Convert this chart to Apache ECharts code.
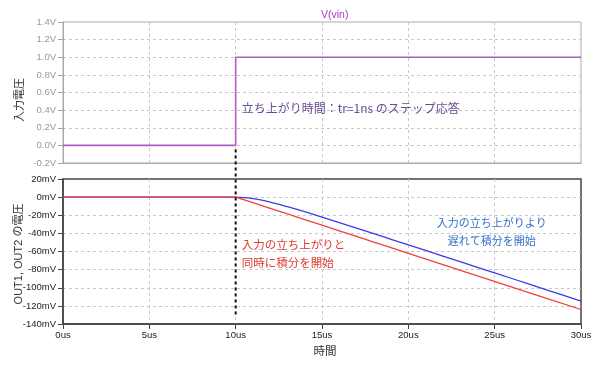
<!DOCTYPE html>
<html><head><meta charset="utf-8">
<script src="https://cdn.jsdelivr.net/npm/echarts@6/dist/echarts.min.js"></script>
<style>html,body{margin:0;padding:0;background:#fff}#c{width:600px;height:369px}</style>
</head><body><div id="c"></div>
<script>
// time axis (us)
const xTicks = [0, 5, 10, 15, 20, 25, 30];
// Input voltage V(vin) [time us, volts]
const vinTime = [0, 10, 10, 30];
const vinVolt = [0, 0, 1.0, 1.0];
// OUT1 (red) : starts integrating at the input edge [mV]
const outTime = [0, 10, 11, 12, 13, 14, 15, 16, 17, 18, 19, 20, 22, 24, 26, 28, 30];
const out1mV = [0, 0, -6.0, -12.3, -18.6, -24.8, -31.0, -37.2, -43.4, -49.6, -55.8, -62.0, -74.4, -86.8, -99.2, -111.6, -124.0];
// OUT2 (blue): starts integrating later
const out2mV = [0, 0, -1.7, -5.5, -10.6, -16.1, -22.0, -28.1, -34.2, -40.3, -46.5, -52.7, -65.0, -77.4, -89.8, -102.3, -114.7];
// labels
const topYTicks = [-0.2, 0, 0.2, 0.4, 0.6, 0.8, 1.0, 1.2, 1.4];
const botYTicks = [-140, -120, -100, -80, -60, -40, -20, 0, 20];
const txtTopY = '入力電圧';
const txtBotY = 'OUT1, OUT2 の電圧';
const txtX = '時間';
const txtVin = 'V(vin)';
const txtNote1 = '立ち上がり時間：tr=1ns のステップ応答';
const txtNoteRed = ['入力の立ち上がりと', '同時に積分を開始'];
const txtNoteBlue = ['入力の立ち上がりより', '遅れて積分を開始'];

const FONT = '"Liberation Sans", Arial, sans-serif';
const JFONT = '"Noto Sans CJK JP", sans-serif';
const MFONT = '"Liberation Sans", "Noto Sans CJK JP", sans-serif';
const pair = (xs, ys) => xs.map((x, i) => [x, ys[i]]);
const split = { show: true, showMinLine: false, showMaxLine: false, lineStyle: { color: '#c8c8c8', type: [3, 3] } };

const chart = echarts.init(document.getElementById('c'));
const xBase = (gi, showLabel) => ({
  type: 'value', gridIndex: gi, min: xTicks[0], max: xTicks[xTicks.length - 1], interval: 5,
  axisLine: { show: true, onZero: false, lineStyle: { color: gi === 0 ? '#aaaaaa' : '#444', width: gi === 0 ? 1 : 1.5 } },
  axisTick: { show: showLabel, length: 5, lineStyle: { color: '#444' } },
  axisLabel: { show: showLabel, formatter: v => v + 'us', color: '#222', fontFamily: FONT, fontSize: 9.5, margin: 6 },
  splitLine: split
});
chart.setOption({
  animation: false,
  grid: [
    { left: 63, right: 19, top: 22, height: 141, show: true, borderColor: '#aaaaaa', borderWidth: 1 },
    { left: 63, right: 19, top: 179, height: 145, show: true, borderColor: '#444', borderWidth: 1.5 }
  ],
  xAxis: [xBase(0, false), xBase(1, true)],
  yAxis: [
    { type: 'value', gridIndex: 0, min: topYTicks[0], max: topYTicks[topYTicks.length - 1], interval: 0.2,
      axisLine: { show: true, onZero: false, lineStyle: { color: '#aaaaaa' } },
      axisTick: { show: true, length: 5, lineStyle: { color: '#aaaaaa' } },
      axisLabel: { formatter: v => (Math.round(v * 10) / 10).toFixed(1) + 'V', color: '#999', fontFamily: FONT, fontSize: 9.5, margin: 7 },
      splitLine: split },
    { type: 'value', gridIndex: 1, min: botYTicks[0], max: botYTicks[botYTicks.length - 1], interval: 20,
      axisLine: { show: true, onZero: false, lineStyle: { color: '#444', width: 1.5 } },
      axisTick: { show: true, length: 5, lineStyle: { color: '#444' } },
      axisLabel: { formatter: v => v + 'mV', color: '#222', fontFamily: FONT, fontSize: 9.5, margin: 7 },
      splitLine: split }
  ],
  series: [
    { type: 'line', xAxisIndex: 0, yAxisIndex: 0, data: pair(vinTime, vinVolt), showSymbol: false,
      lineStyle: { color: '#b05cc4', width: 1.6 }, z: 3 },
    { type: 'line', xAxisIndex: 1, yAxisIndex: 1, data: pair(outTime, out2mV), showSymbol: false, smooth: 0.3,
      lineStyle: { color: '#3a3af0', width: 1.3 }, z: 3 },
    { type: 'line', xAxisIndex: 1, yAxisIndex: 1, data: pair(outTime, out1mV), showSymbol: false,
      lineStyle: { color: '#f04040', width: 1.3 }, z: 4 }
  ]
});

const p0 = (x, y) => chart.convertToPixel({ xAxisIndex: 0, yAxisIndex: 0 }, [x, y]);
const p1 = (x, y) => chart.convertToPixel({ xAxisIndex: 1, yAxisIndex: 1 }, [x, y]);
const edgeTop = p0(10, 0);
const edgeBot = p1(10, -130);
const xLab = p1(15, -140);
const vinPos = p0(15, 1.4);
const n1 = p0(10, 0.4);
const nBlue = p1(25, -30);
chart.setOption({
  graphic: [
    { type: 'line', shape: { x1: edgeTop[0], y1: edgeTop[1] + 4, x2: edgeBot[0], y2: edgeBot[1] },
      style: { stroke: '#111', lineWidth: 2, lineDash: [3, 3] }, z: 10 },
    { type: 'text', x: 19, y: 100, rotation: Math.PI / 2, style: { text: txtTopY, font: '11px ' + JFONT, fill: '#333', align: 'center', verticalAlign: 'middle' } },
    { type: 'text', x: 19, y: 254, rotation: Math.PI / 2, style: { text: txtBotY, font: '11px ' + MFONT, fill: '#333', align: 'center', verticalAlign: 'middle' } },
    { type: 'text', x: xLab[0] + 3, y: 351, style: { text: txtX, font: '11.5px ' + JFONT, fill: '#333', align: 'center', verticalAlign: 'middle' } },
    { type: 'text', x: vinPos[0] - 1, y: 15, style: { text: txtVin, font: '10.5px ' + FONT, fill: '#a040c0', align: 'left', verticalAlign: 'middle' } },
    { type: 'text', x: n1[0] + 6, y: 108, style: { text: txtNote1, font: '12px ' + JFONT, fill: '#6a4a98', align: 'left', verticalAlign: 'middle' } },
    { type: 'text', x: n1[0] + 6, y: 245, style: { text: txtNoteRed[0], font: '11.5px ' + JFONT, fill: '#e0392e', align: 'left', verticalAlign: 'middle' } },
    { type: 'text', x: n1[0] + 6, y: 263, style: { text: txtNoteRed[1], font: '11.5px ' + JFONT, fill: '#e0392e', align: 'left', verticalAlign: 'middle' } },
    { type: 'text', x: nBlue[0] - 3, y: 223, style: { text: txtNoteBlue[0], font: '11px ' + JFONT, fill: '#2f6fc8', align: 'center', verticalAlign: 'middle' } },
    { type: 'text', x: nBlue[0] - 3, y: 241, style: { text: txtNoteBlue[1], font: '11px ' + JFONT, fill: '#2f6fc8', align: 'center', verticalAlign: 'middle' } }
  ]
});
</script></body></html>
